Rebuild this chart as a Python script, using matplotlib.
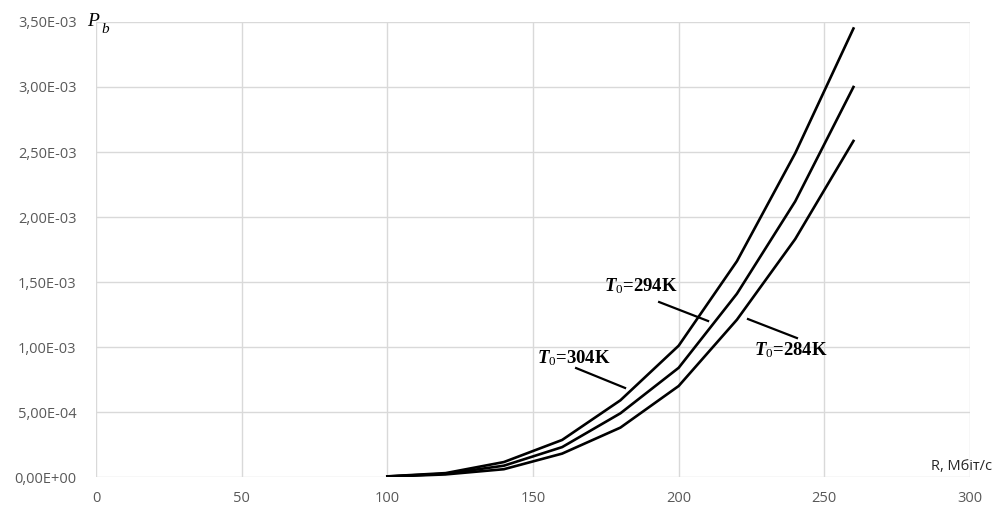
import matplotlib
matplotlib.use('Agg')
import matplotlib.pyplot as plt
from matplotlib.ticker import FuncFormatter, MultipleLocator

# швидкість передачі, Мбіт/с
rate = [100, 120, 140, 160, 180, 200, 220, 240, 260]

# ймовірність помилки на біт для різних шумових температур
pb_304 = [0.005e-3, 0.03e-3, 0.115e-3, 0.285e-3, 0.59e-3, 1.01e-3, 1.66e-3, 2.49e-3, 3.45e-3]
pb_294 = [0.004e-3, 0.025e-3, 0.087e-3, 0.23e-3, 0.49e-3, 0.84e-3, 1.41e-3, 2.12e-3, 3.00e-3]
pb_284 = [0.003e-3, 0.02e-3, 0.06e-3, 0.18e-3, 0.38e-3, 0.70e-3, 1.21e-3, 1.83e-3, 2.585e-3]

plt.rcParams['mathtext.fontset'] = 'custom'
plt.rcParams['mathtext.it'] = 'Liberation Serif:italic:bold'
plt.rcParams['mathtext.rm'] = 'Liberation Serif'

fig = plt.figure(figsize=(9.97, 5.08), dpi=100)
ax = fig.add_axes([0.0963, 0.061, 0.8766, 0.8957])

for pb in (pb_304, pb_294, pb_284):
    ax.plot(rate, pb, color='black', lw=1.9, solid_joinstyle='round')

ax.set_xlim(0, 300)
ax.set_ylim(0, 3.5e-3)
ax.xaxis.set_major_locator(MultipleLocator(50))
ax.yaxis.set_major_locator(MultipleLocator(0.5e-3))
ax.yaxis.set_major_formatter(FuncFormatter(lambda v, p: f'{v:.2E}'.replace('.', ',')))

ax.grid(True, color='#d9d9d9', lw=1.0)
ax.set_axisbelow(True)
for s in ax.spines.values():
    s.set_visible(False)
ax.tick_params(length=0, labelsize=10.5, labelcolor='#595959')
ax.tick_params(axis='y', pad=14)
ax.tick_params(axis='x', pad=10)
for lbl in ax.get_xticklabels() + ax.get_yticklabels():
    lbl.set_fontfamily('Open Sans')

# підписи кривих з виносками
label_style = dict(fontsize=13.5, fontweight='bold', family='Liberation Serif',
                   ha='center', va='center')
ax.text((641 - 96) / 2.913, 1.465e-3, r'$T_0$=294K', **label_style)
ax.text((574 - 96) / 2.913, 0.915e-3, r'$T_0$=304K', **label_style)
ax.text((791 - 96) / 2.913, 0.975e-3, r'$T_0$=284K', **label_style)
ax.plot([164.8, 181.6], [0.838e-3, 0.685e-3], color='black', lw=1.6)
ax.plot([193.3, 210.1], [1.346e-3, 1.20e-3], color='black', lw=1.6)
ax.plot([223.8, 240.6], [1.215e-3, 1.069e-3], color='black', lw=1.6)

# назви осей
ax.text(-3.0, 3.5e-3, 'P', fontsize=14, family='Liberation Serif', style='italic',
        ha='left', va='center')
ax.text(1.8, 3.44e-3, 'b', fontsize=11, family='Liberation Serif', style='italic',
        ha='left', va='center')
ax.text(307.5, 0.02e-3, 'R, Мбіт/с', fontsize=10.5, family='Open Sans',
        ha='right', va='bottom', color='#262626')

fig.savefig('out.png', dpi=100)
